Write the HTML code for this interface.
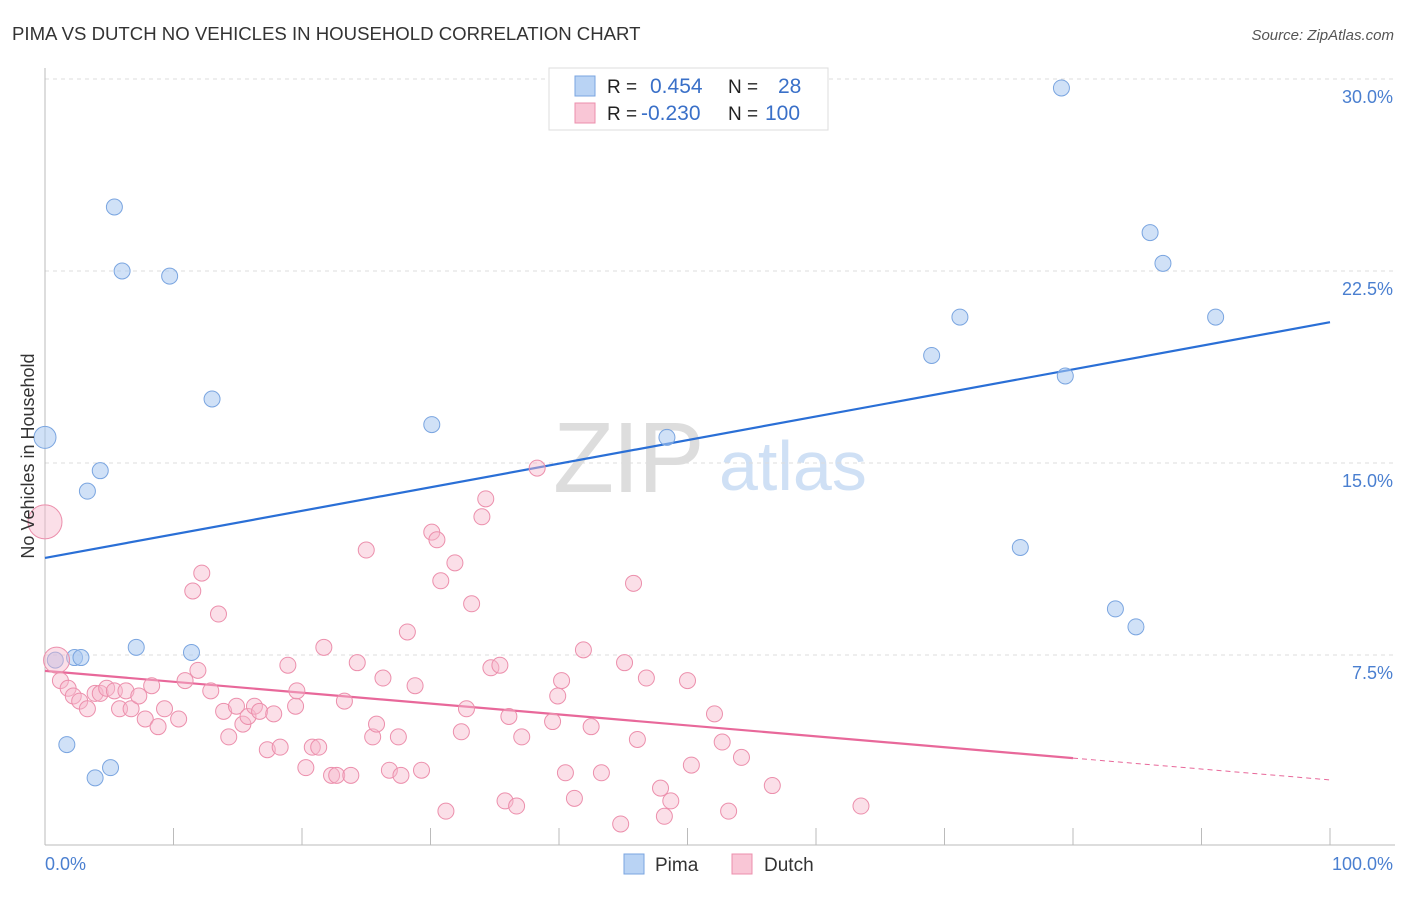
<!DOCTYPE html>
<html><head><meta charset="utf-8"><style>
body{margin:0;background:#fff;font-family:"Liberation Sans",sans-serif}
svg text{font-family:"Liberation Sans",sans-serif}
</style></head><body>
<svg id="c" width="1406" height="892" xmlns="http://www.w3.org/2000/svg">
<text x="12" y="40" font-size="18.6" fill="#333">PIMA VS DUTCH NO VEHICLES IN HOUSEHOLD CORRELATION CHART</text>
<text x="1394" y="40" font-size="15" fill="#555" font-style="italic" text-anchor="end">Source: ZipAtlas.com</text>
<g>
<text x="553" y="492" font-size="100" font-family="Liberation Serif,serif" fill="#ddd" letter-spacing="-2">ZIP</text>
<text x="719" y="490" font-size="70" fill="#cfe0f5">atlas</text>
</g>
<g id="grid"></g>
<g id="axes"></g>
<g id="lines"></g>
<g id="pts"></g>
<text transform="translate(34,456) rotate(-90)" font-size="18" fill="#333" text-anchor="middle">No Vehicles in Household</text>
<text x="45" y="870" font-size="18" fill="#4a7fd0">0.0%</text>
<text x="1393" y="870" font-size="18" fill="#4a7fd0" text-anchor="end">100.0%</text>
<g>
<rect x="549" y="68" width="279" height="62" fill="#fff" stroke="#ddd"/>
<rect x="575" y="76" width="20" height="20" fill="#b9d3f4" stroke="#7aa5e0"/>
<rect x="575" y="103" width="20" height="20" fill="#f9c6d6" stroke="#ec8fac"/>
<text x="607" y="93" font-size="19" fill="#222">R =</text>
<text x="650" y="93" font-size="21" fill="#3a70c8">0.454</text>
<text x="728" y="93" font-size="19" fill="#222">N =</text>
<text x="778" y="93" font-size="21" fill="#3a70c8">28</text>
<text x="607" y="120" font-size="19" fill="#222">R =</text>
<text x="641" y="120" font-size="21" fill="#3a70c8">-0.230</text>
<text x="728" y="120" font-size="19" fill="#222">N =</text>
<text x="765" y="120" font-size="21" fill="#3a70c8">100</text>
</g>
<g>
<rect x="624" y="854" width="20" height="20" fill="#b9d3f4" stroke="#7aa5e0"/>
<text x="655" y="871" font-size="19" fill="#333">Pima</text>
<rect x="732" y="854" width="20" height="20" fill="#f9c6d6" stroke="#ec8fac"/>
<text x="764" y="871" font-size="19" fill="#333">Dutch</text>
</g>
</svg>
<script>
const yTicks=[7.5,15,22.5,30];
const yTickLabels=["7.5%","15.0%","22.5%","30.0%"];
const pimaX=[0,5.4,6.0,9.7,13.0,4.3,3.3,30.1,48.4,79.1,86.0,87.0,91.1,71.2,69.0,79.4,75.9,83.3,84.9,7.1,11.4,0.8,2.3,2.8,1.7,5.1,3.9];
const pimaY=[16.0,25.0,22.5,22.3,17.5,14.7,13.9,16.5,16.0,29.65,24.0,22.8,20.7,20.7,19.2,18.4,11.7,9.3,8.6,7.8,7.6,7.3,7.4,7.4,4.0,3.1,2.7];
const dutchX=[0,0.9,1.2,1.8,2.2,2.7,3.3,3.9,4.3,4.8,5.4,5.8,6.3,6.7,7.3,7.8,8.3,8.8,9.3,10.4,10.9,11.5,11.9,12.2,12.9,13.5,13.9,14.3,14.9,15.4,15.8,16.3,16.7,17.3,17.8,18.3,18.9,19.5,19.6,20.3,20.8,21.3,21.7,22.3,22.7,23.3,23.8,24.3,25.0,25.5,25.8,26.3,26.8,27.5,27.7,28.2,28.8,29.3,30.1,30.5,30.8,31.2,31.9,32.4,32.8,33.2,34.0,34.3,34.7,35.4,35.8,36.1,36.7,37.1,38.3,39.5,39.9,40.2,40.5,41.2,41.9,42.5,43.3,44.8,45.1,45.8,46.1,46.8,47.9,48.2,48.7,50.0,50.3,52.1,52.7,53.2,54.2,56.6,63.5];
const dutchY=[12.7,7.3,6.5,6.2,5.9,5.7,5.4,6.0,6.0,6.2,6.1,5.4,6.1,5.4,5.9,5.0,6.3,4.7,5.4,5.0,6.5,10.0,6.9,10.7,6.1,9.1,5.3,4.3,5.5,4.8,5.1,5.5,5.3,3.8,5.2,3.9,7.1,5.5,6.1,3.1,3.9,3.9,7.8,2.8,2.8,5.7,2.8,7.2,11.6,4.3,4.8,6.6,3.0,4.3,2.8,8.4,6.3,3.0,12.3,12.0,10.4,1.4,11.1,4.5,5.4,9.5,12.9,13.6,7.0,7.1,1.8,5.1,1.6,4.3,14.8,4.9,5.9,6.5,2.9,1.9,7.7,4.7,2.9,0.9,7.2,10.3,4.2,6.6,2.3,1.2,1.8,6.5,3.2,5.2,4.1,1.4,3.5,2.4,1.6];
const pimaTrend=[11.29,20.5];
const dutchTrend=[6.88,2.62];
const dutchSolidEnd=80;
const X=v=>45+v*12.85, Y=v=>847-v*25.6;
const NS="http://www.w3.org/2000/svg";
function mk(p,t,a){const e=document.createElementNS(NS,t);for(const k in a)e.setAttribute(k,a[k]);document.getElementById(p).appendChild(e);return e;}
yTicks.forEach((t,i)=>{
 const g=mk('grid','line',{x1:45,x2:1395,y1:Y(t),y2:Y(t),stroke:'#ddd','stroke-dasharray':'4,4'});
 
 
 const l=mk('grid','text',{x:1393,y:Y(t)+24,'font-size':18,fill:'#4a7fd0','text-anchor':'end'});
 l.textContent=yTickLabels[i];
 
 
});
const ax=mk('axes','line',{x1:45,x2:45,y1:68,y2:845,stroke:'#bbb'});


const bx=mk('axes','line',{x1:45,x2:1395,y1:845,y2:845,stroke:'#bbb'});


for(let k=0;k<=10;k++){const t=mk('axes','line',{x1:X(k*10),x2:X(k*10),y1:828,y2:845,stroke:'#bbb'});
 
 }
pimaX.forEach((x,i)=>{const c=mk('pts','circle',{cx:X(x),cy:Y(pimaY[i]),r:i==0?11:8,fill:'rgba(169,200,240,0.55)',stroke:'#7aa5e0','stroke-width':1});
 
 });
dutchX.forEach((x,i)=>{const c=mk('pts','circle',{cx:X(x),cy:Y(dutchY[i]),r:i==0?17:(i==1?13:8),fill:'rgba(246,184,204,0.45)',stroke:'#ec8fac','stroke-width':1});
 
 });
const bl=mk('lines','line',{x1:X(0),y1:Y(pimaTrend[0]),x2:X(100),y2:Y(pimaTrend[1]),stroke:'#2a6fd6','stroke-width':2.2});


const dm=dutchTrend[0]+(dutchTrend[1]-dutchTrend[0])*dutchSolidEnd/100;
const pl=mk('lines','line',{x1:X(0),y1:Y(dutchTrend[0]),x2:X(dutchSolidEnd),y2:Y(dm),stroke:'#e8689a','stroke-width':2.2});


const pd=mk('lines','line',{x1:X(dutchSolidEnd),y1:Y(dm),x2:X(100),y2:Y(dutchTrend[1]),stroke:'#e8689a','stroke-width':1,'stroke-dasharray':'5,4'});


</script>
</body></html>
